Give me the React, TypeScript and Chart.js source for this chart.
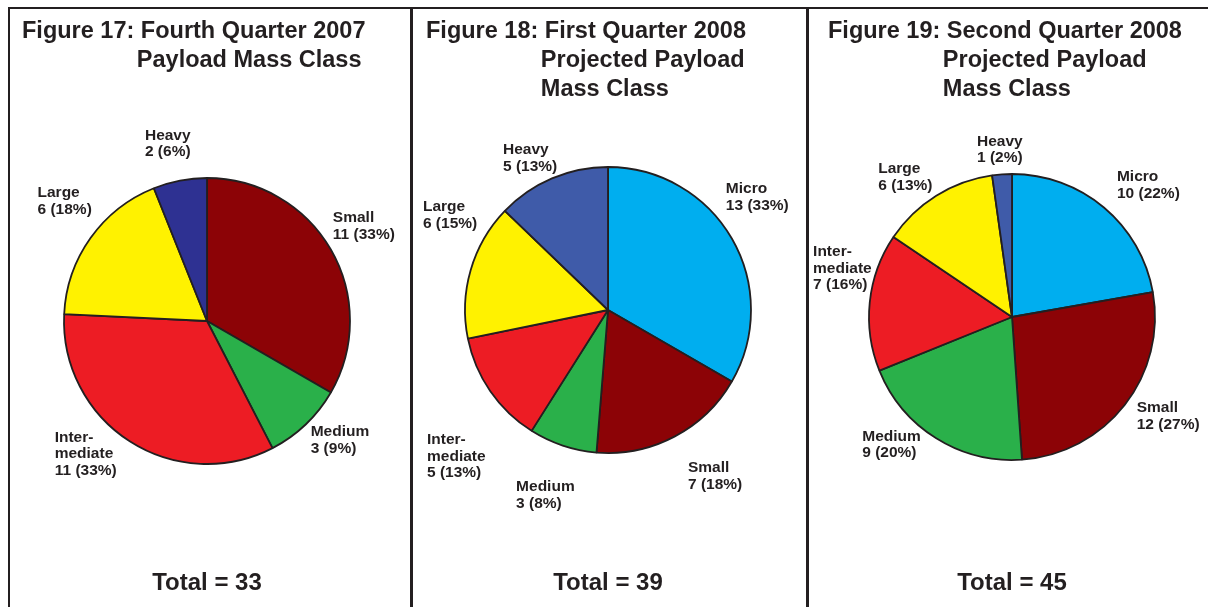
import React, { useEffect, useRef } from "react";
import { Chart, registerables } from "chart.js";

Chart.register(...registerables);

const FONT = '"Liberation Sans", Arial, Helvetica, sans-serif';
const INK = "#231F20";

// ---- Data ----
// Figure 17: Fourth Quarter 2007
const q4Categories = ["Small", "Medium", "Intermediate", "Large", "Heavy"];
const q4Values = [11, 3, 11, 6, 2];

// Figure 18: First Quarter 2008 (projected)
const q1Categories = ["Micro", "Small", "Medium", "Intermediate", "Large", "Heavy"];
const q1Values = [13, 7, 3, 5, 6, 5];

// Figure 19: Second Quarter 2008 (projected)
const q2Categories = ["Micro", "Small", "Medium", "Intermediate", "Large", "Heavy"];
const q2Values = [10, 12, 9, 7, 6, 1];

// ---- Styles ----
const classColors: Record<string, string> = {
  Micro: "#00AEEF",
  Small: "#8C0306",
  Medium: "#2AB04A",
  Intermediate: "#ED1C24",
  Large: "#FFF200",
  Heavy: "#3F5BA9",
};

type PanelProps = {
  left: number;
  width: number;
  cx: number;
  cy: number;
  prefix: string;
  titleLines: string[];
  titleX: number;
  categories: string[];
  values: number[];
  heavyColor: string;
  offsets: [number, number][];
};

const H = 607;
const R = 143;

function nameLines(name: string): string[] {
  return name === "Intermediate" ? ["Inter-", "mediate"] : [name];
}

const panelPlugin = {
  id: "panelText",
  afterDatasetsDraw(chart: any, _args: any, opts: any) {
    const ctx = chart.ctx as CanvasRenderingContext2D;
    const meta = chart.getDatasetMeta(0);
    const data = chart.data.datasets[0].data as number[];
    const labels = chart.data.labels as string[];
    const total = data.reduce((a, b) => a + b, 0);
    ctx.save();
    ctx.fillStyle = INK;
    ctx.textAlign = "left";
    ctx.textBaseline = "middle";
    ctx.font = `bold 15.5px ${FONT}`;
    meta.data.forEach((el: any, i: number) => {
      const p = el.getProps(["x", "y", "startAngle", "endAngle", "outerRadius"], true);
      const mid = (p.startAngle + p.endAngle) / 2;
      const ex = p.x + p.outerRadius * Math.cos(mid);
      const ey = p.y + p.outerRadius * Math.sin(mid);
      const [dx, dy] = opts.offsets[i] || [0, 0];
      const lines = [
        ...nameLines(labels[i]),
        `${data[i]} (${Math.round((data[i] / total) * 100)}%)`,
      ];
      lines.forEach((t, k) => ctx.fillText(t, ex + dx, ey + dy + k * 16.5));
    });

    // Title
    ctx.textBaseline = "alphabetic";
    ctx.font = `bold 23.5px ${FONT}`;
    const lines: string[] = opts.titleLines;
    ctx.fillText(`${opts.prefix} ${lines[0]}`, opts.titleX, 38);
    const indent = opts.titleX + ctx.measureText(`${opts.prefix} `).width - 4;
    lines.slice(1).forEach((t, k) => ctx.fillText(t, indent, 67 + k * 29));

    // Total
    const area = chart.chartArea;
    ctx.textAlign = "center";
    ctx.font = `bold 24px ${FONT}`;
    ctx.fillText(`Total = ${total}`, (area.left + area.right) / 2, 590);
    ctx.restore();
  },
};

function Panel(props: PanelProps) {
  const ref = useRef<HTMLCanvasElement | null>(null);
  useEffect(() => {
    if (!ref.current) return;
    const colors = props.categories.map((c) =>
      c === "Heavy" ? props.heavyColor : classColors[c]
    );
    const chart = new Chart(ref.current, {
      type: "pie",
      data: {
        labels: props.categories,
        datasets: [
          {
            data: props.values,
            backgroundColor: colors,
            borderColor: INK,
            borderWidth: 1.8,
          },
        ],
      },
      options: {
        responsive: false,
        animation: false,
        radius: R,
        layout: {
          padding: {
            left: props.cx - R,
            right: props.width - props.cx - R,
            top: props.cy - R,
            bottom: H - props.cy - R,
          },
        },
        plugins: {
          legend: { display: false },
          tooltip: { enabled: false },
          panelText: {
            offsets: props.offsets,
            titleLines: props.titleLines,
            prefix: props.prefix,
            titleX: props.titleX,
          },
        } as any,
      } as any,
      plugins: [panelPlugin as any],
    });
    return () => chart.destroy();
  }, []);
  return (
    <canvas
      ref={ref}
      width={props.width}
      height={H}
      style={{ position: "absolute", left: props.left, top: 0, width: props.width, height: H }}
    />
  );
}

function Line(p: { x: number; y: number; w: number; h: number }) {
  return (
    <div
      style={{
        position: "absolute",
        left: p.x,
        top: p.y,
        width: p.w,
        height: p.h,
        background: INK,
        zIndex: 2,
      }}
    />
  );
}

export default function App() {
  return (
    <div
      style={{
        position: "fixed",
        left: 0,
        top: 0,
        width: 1208,
        height: H,
        background: "#fff",
        overflow: "hidden",
      }}
    >
      <Panel
        left={0}
        width={410}
        cx={207}
        cy={321}
        prefix="Figure 17:"
        titleLines={["Fourth Quarter 2007", "Payload Mass Class"]}
        titleX={22}
        categories={q4Categories}
        values={q4Values}
        heavyColor="#2E3192"
        offsets={[
          [2, -31.5],
          [5, 7.5],
          [-75, -4],
          [-53, -45],
          [-35, -45],
        ]}
      />
      <Panel
        left={410}
        width={398}
        cx={198}
        cy={310}
        prefix="Figure 18:"
        titleLines={["First Quarter 2008", "Projected Payload", "Mass Class"]}
        titleX={16}
        categories={q1Categories}
        values={q1Values}
        heavyColor="#3F5BA9"
        offsets={[
          [-6, -49.5],
          [13.5, 31.4],
          [-46.6, 41.4],
          [-63.3, 48.8],
          [-47.7, -63],
          [-49, -28.4],
        ]}
      />
      <Panel
        left={808}
        width={400}
        cx={204}
        cy={317}
        prefix="Figure 19:"
        titleLines={["Second Quarter 2008", "Projected Payload", "Mass Class"]}
        titleX={20}
        categories={q2Categories}
        values={q2Values}
        heavyColor="#3F5BA9"
        offsets={[
          [13, -30.5],
          [12, 3],
          [-74, -2],
          [-56.7, -50],
          [-58, -27],
          [-25, -33],
        ]}
      />
      <Line x={8} y={7} w={1200} h={1.5} />
      <Line x={8} y={7} w={2} h={600} />
      <Line x={410} y={7} w={2.5} h={600} />
      <Line x={806} y={7} w={2.5} h={600} />
    </div>
  );
}
